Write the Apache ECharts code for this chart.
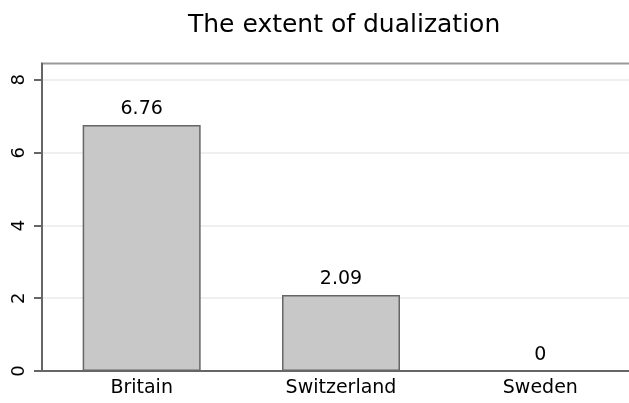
<!DOCTYPE html>
<html>
<head>
<meta charset="utf-8">
<script src="https://cdn.jsdelivr.net/npm/echarts@6/dist/echarts.min.js"></script>
<style>
html,body{margin:0;padding:0;background:#fff;overflow:hidden;width:629px;height:403px;}
#c{width:642px;height:403px;}
</style>
</head>
<body>
<div id="c"></div>
<script>
const categories = ["Britain", "Switzerland", "Sweden"];
const values = [6.76, 2.09, 0];
const yTicks = [0, 2, 4, 6, 8];
const titleText = "The extent of dualization";

const chart = echarts.init(document.getElementById('c'), null, {renderer: 'canvas'});
const font = "DejaVu Sans";
chart.setOption({
  animation: false,
  backgroundColor: '#ffffff',
  title: {
    text: titleText,
    left: 183,
    top: 8,
    textStyle: {fontFamily: font, fontSize: 25, fontWeight: 'normal', color: '#000'}
  },
  grid: {
    left: 42, right: 2, top: 63.5, bottom: 32,
    show: true, borderColor: '#999', borderWidth: 2, backgroundColor: 'transparent'
  },
  xAxis: {
    type: 'category',
    data: categories,
    axisLine: {lineStyle: {color: '#666', width: 2}},
    axisTick: {show: false},
    axisLabel: {fontFamily: font, fontSize: 19, color: '#000', margin: 8}
  },
  yAxis: {
    type: 'value',
    min: 0, max: 8.45, interval: 2,
    axisLine: {show: true, lineStyle: {color: '#666', width: 2}},
    axisTick: {show: true, length: 8, lineStyle: {color: '#666', width: 2}, customValues: yTicks},
    axisLabel: {fontFamily: font, fontSize: 18, color: '#000', rotate: 90, margin: 14, customValues: yTicks},
    splitLine: {show: true, lineStyle: {color: '#eaeaea', width: 1.5}}
  },
  series: [{
    type: 'bar',
    data: values,
    barWidth: 118,
    itemStyle: {color: '#c8c8c8', borderColor: '#666', borderWidth: 1.5},
    label: {
      show: true, position: 'top', distance: 6,
      fontFamily: font, fontSize: 19, color: '#000',
      formatter: p => String(p.value)
    }
  }]
});
</script>
</body>
</html>
